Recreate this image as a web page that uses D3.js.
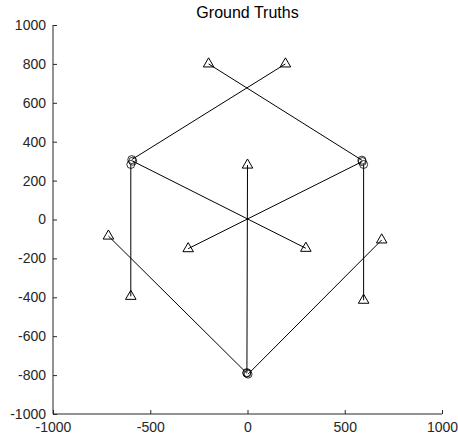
<!DOCTYPE html>
<html>
<head>
<meta charset="utf-8">
<script src="https://cdn.jsdelivr.net/npm/d3@7"></script>
<style>
  body { margin: 0; background: #fff; }
  svg { display: block; }
  text { font-family: "Liberation Sans", Arial, Helvetica, sans-serif; }
</style>
</head>
<body>
<svg id="chart" width="458" height="445"></svg>
<script>
// Data: each segment starts at a circle (start) and ends at a triangle (end)
const startX = [-595, -590, -600, 588, 590, 597, -3, -4, 3];
const startY = [308, 300, 283, 305, 298, 283, -787, -790, -795];
const endX   = [195, 300, -600, -200, -305, 597, 0, -715, 690];
const endY   = [800, -148, -395, 800, -150, -415, 280, -85, -105];

const xTicks = [-1000, -500, 0, 500, 1000];
const yTicks = [-1000, -800, -600, -400, -200, 0, 200, 400, 600, 800, 1000];
const titleText = "Ground Truths";

const svg = d3.select("#chart");
const mLeft = 53, mRight = 442, mTop = 25, mBottom = 414;

const x = d3.scaleLinear().domain([-1000, 1000]).range([mLeft, mRight]);
const y = d3.scaleLinear().domain([-1000, 1000]).range([mBottom, mTop]);

const axisColor = "#262626";
const fmt = d => String(d);

// Axes
const xAxis = d3.axisBottom(x).tickValues(xTicks).tickSize(-4).tickPadding(8).tickFormat(fmt);
const yAxis = d3.axisLeft(y).tickValues(yTicks).tickSize(-4).tickPadding(7).tickFormat(fmt);

const gx = svg.append("g").attr("transform", `translate(0,${mBottom})`).call(xAxis);
const gy = svg.append("g").attr("transform", `translate(${mLeft},0)`).call(yAxis);

[gx, gy].forEach(g => {
  g.select(".domain").attr("stroke", axisColor).attr("stroke-width", 1);
  g.selectAll(".tick line").attr("stroke", axisColor);
  g.selectAll(".tick text").attr("fill", axisColor).style("font-size", "14px")
    .style("font-family", '"Liberation Sans", Arial, sans-serif');
});
gx.select(".domain").attr("d", `M${mLeft},0H${mRight}`);
gy.select(".domain").attr("d", `M0,${mBottom}V${mTop}`);

// Segments
const segs = startX.map((sx, i) => ({sx, sy: startY[i], ex: endX[i], ey: endY[i]}));

svg.append("g").selectAll("line").data(segs).join("line")
  .attr("x1", d => x(d.sx)).attr("y1", d => y(d.sy))
  .attr("x2", d => x(d.ex)).attr("y2", d => y(d.ey))
  .attr("stroke", "#000").attr("stroke-width", 1);

// Circles at starts
svg.append("g").selectAll("circle").data(segs).join("circle")
  .attr("cx", d => x(d.sx)).attr("cy", d => y(d.sy)).attr("r", 4)
  .attr("fill", "none").attr("stroke", "#000").attr("stroke-width", 0.8);

// Triangles at ends
const tri = d3.symbol().type(d3.symbolTriangle).size(48);
svg.append("g").selectAll("path").data(segs).join("path")
  .attr("transform", d => `translate(${x(d.ex)},${y(d.ey)})`)
  .attr("d", tri)
  .attr("fill", "none").attr("stroke", "#000").attr("stroke-width", 1);

// Title
svg.append("text")
  .attr("x", (mLeft + mRight) / 2).attr("y", 18)
  .attr("text-anchor", "middle")
  .attr("fill", "#000")
  .style("font-size", "16px")
  .text(titleText);
</script>
</body>
</html>
